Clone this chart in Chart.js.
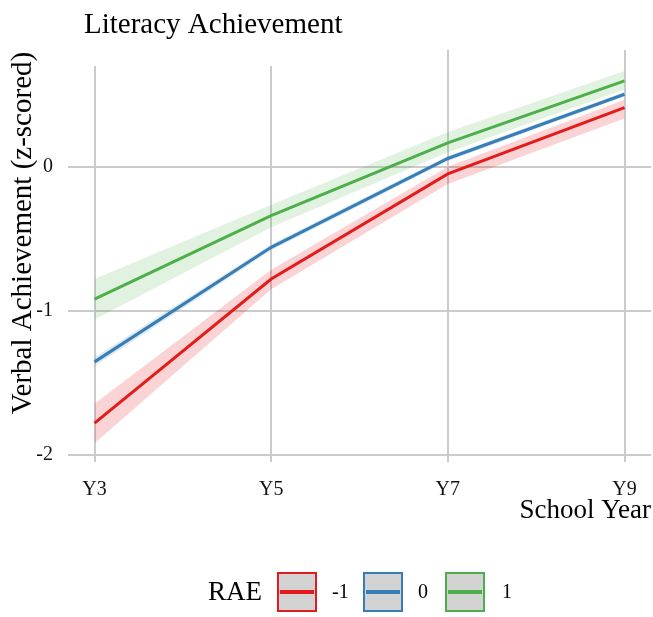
<!DOCTYPE html>
<html>
<head>
<meta charset="utf-8">
<script src="https://cdn.jsdelivr.net/npm/chart.js@4/dist/chart.umd.min.js"></script>
<style>
  html, body { margin: 0; padding: 0; background: #ffffff; }
  #wrap { width: 653px; height: 617px; position: relative; }
</style>
</head>
<body>
<div id="wrap"><canvas id="chart" width="653" height="617"></canvas></div>
<script>
// School years on the x axis and the RAE groups
const years = ['Y3', 'Y5', 'Y7', 'Y9'];
const raeGroups = ['-1', '0', '1'];
const yTickValues = [-2, -1, 0];

// Mean verbal achievement (z-scored) and its confidence band, per RAE group
const meanNeg  = [-1.78, -0.78, -0.05, 0.41];
const lowerNeg = [-1.92, -0.85, -0.12, 0.335];
const upperNeg = [-1.645, -0.715, 0.0, 0.465];

const meanZero  = [-1.355, -0.56, 0.057, 0.503];
const lowerZero = [-1.385, -0.58, 0.04, 0.487];
const upperZero = [-1.325, -0.54, 0.074, 0.519];

const meanPos  = [-0.92, -0.34, 0.165, 0.596];
const lowerPos = [-1.06, -0.42, 0.10, 0.535];
const upperPos = [-0.78, -0.265, 0.24, 0.665];

const groupColors = ['#E41A1C', '#377EB8', '#4DAF4A'];
const bandColors = ['rgba(228,26,28,0.19)', 'rgba(55,126,184,0.18)', 'rgba(77,175,74,0.17)'];

const FONT = '"Liberation Serif", "Times New Roman", serif';

const toPoints = arr => arr.map((v, i) => ({ x: i, y: v }));

const means = [meanNeg, meanZero, meanPos];
const lowers = [lowerNeg, lowerZero, lowerPos];
const uppers = [upperNeg, upperZero, upperPos];

const datasets = [];
// bands first so the lines sit on top
raeGroups.forEach((g, k) => {
  datasets.push({
    label: 'upper ' + g, data: toPoints(uppers[k]),
    borderWidth: 0, pointRadius: 0, fill: false, borderColor: 'transparent'
  });
  datasets.push({
    label: 'lower ' + g, data: toPoints(lowers[k]),
    borderWidth: 0, pointRadius: 0, fill: '-1',
    borderColor: 'transparent', backgroundColor: bandColors[k]
  });
});
raeGroups.forEach((g, k) => {
  datasets.push({
    label: g, data: toPoints(means[k]),
    borderColor: groupColors[k], borderWidth: 3, pointRadius: 0,
    fill: false, tension: 0
  });
});

// Text, the rule strip under the title, and the RAE key
const decorations = {
  id: 'decorations',
  beforeDatasetsDraw(chart) {
    const { ctx, chartArea } = chart;
    ctx.save();
    ctx.fillStyle = '#ffffff';
    ctx.fillRect(chartArea.left, chartArea.top - 1, 370, 17);
    ctx.restore();
  },
  afterDraw(chart) {
    const { ctx } = chart;
    ctx.save();
    ctx.fillStyle = '#000000';

    // title
    ctx.font = '29px ' + FONT;
    ctx.textAlign = 'left';
    ctx.textBaseline = 'alphabetic';
    ctx.fillText('Literacy Achievement', 84, 33);

    // x axis title
    ctx.font = '27px ' + FONT;
    ctx.textAlign = 'right';
    ctx.fillText('School Year', 651, 518);

    // y axis title
    ctx.save();
    ctx.font = '29px ' + FONT;
    ctx.translate(31, 233);
    ctx.rotate(-Math.PI / 2);
    ctx.textAlign = 'center';
    ctx.textBaseline = 'alphabetic';
    ctx.fillText('Verbal Achievement (z-scored)', 0, 0);
    ctx.restore();

    // legend
    const cy = 592;
    ctx.textAlign = 'left';
    ctx.textBaseline = 'middle';
    ctx.font = '27px ' + FONT;
    ctx.fillText('RAE', 208, cy + 1);
    const boxX = [277, 363, 445];
    const labelX = [332, 418, 502];
    raeGroups.forEach((g, k) => {
      const x = boxX[k];
      ctx.fillStyle = '#D3D3D3';
      ctx.fillRect(x, cy - 20, 40, 40);
      ctx.strokeStyle = groupColors[k];
      ctx.lineWidth = 2;
      ctx.strokeRect(x + 1, cy - 19, 38, 38);
      ctx.beginPath();
      ctx.moveTo(x + 3, cy);
      ctx.lineTo(x + 37, cy);
      ctx.lineWidth = 4;
      ctx.stroke();
      ctx.fillStyle = '#000000';
      ctx.font = '20px ' + FONT;
      ctx.fillText(g, labelX[k], cy + 1);
    });
    ctx.restore();
  }
};

new Chart(document.getElementById('chart'), {
  type: 'line',
  data: { datasets },
  plugins: [decorations],
  options: {
    responsive: false,
    animation: false,
    layout: { padding: { top: 50, right: 2, left: 0, bottom: 95 } },
    plugins: {
      legend: { display: false },
      title: { display: false },
      tooltip: { enabled: false },
      filler: { propagate: false }
    },
    scales: {
      x: {
        type: 'linear',
        min: -0.15, max: 3.15,
        afterFit(scale) { scale.height = 60; },
        afterBuildTicks(scale) { scale.ticks = years.map((_, i) => ({ value: i })); },
        border: { display: false },
        grid: { color: '#cbcbcb', lineWidth: 2, drawTicks: false },
        ticks: {
          padding: 16,
          color: '#111111',
          font: { family: FONT, size: 20 },
          callback: v => years[v]
        }
      },
      y: {
        type: 'linear',
        min: -2.05, max: 0.81,
        afterFit(scale) { scale.width = 68; },
        afterBuildTicks(scale) { scale.ticks = yTickValues.map(v => ({ value: v })); },
        border: { display: false },
        grid: { color: '#cbcbcb', lineWidth: 2, drawTicks: false },
        ticks: {
          padding: 15,
          color: '#111111',
          font: { family: FONT, size: 20 },
          callback: v => String(v)
        }
      }
    }
  }
});
</script>
</body>
</html>
